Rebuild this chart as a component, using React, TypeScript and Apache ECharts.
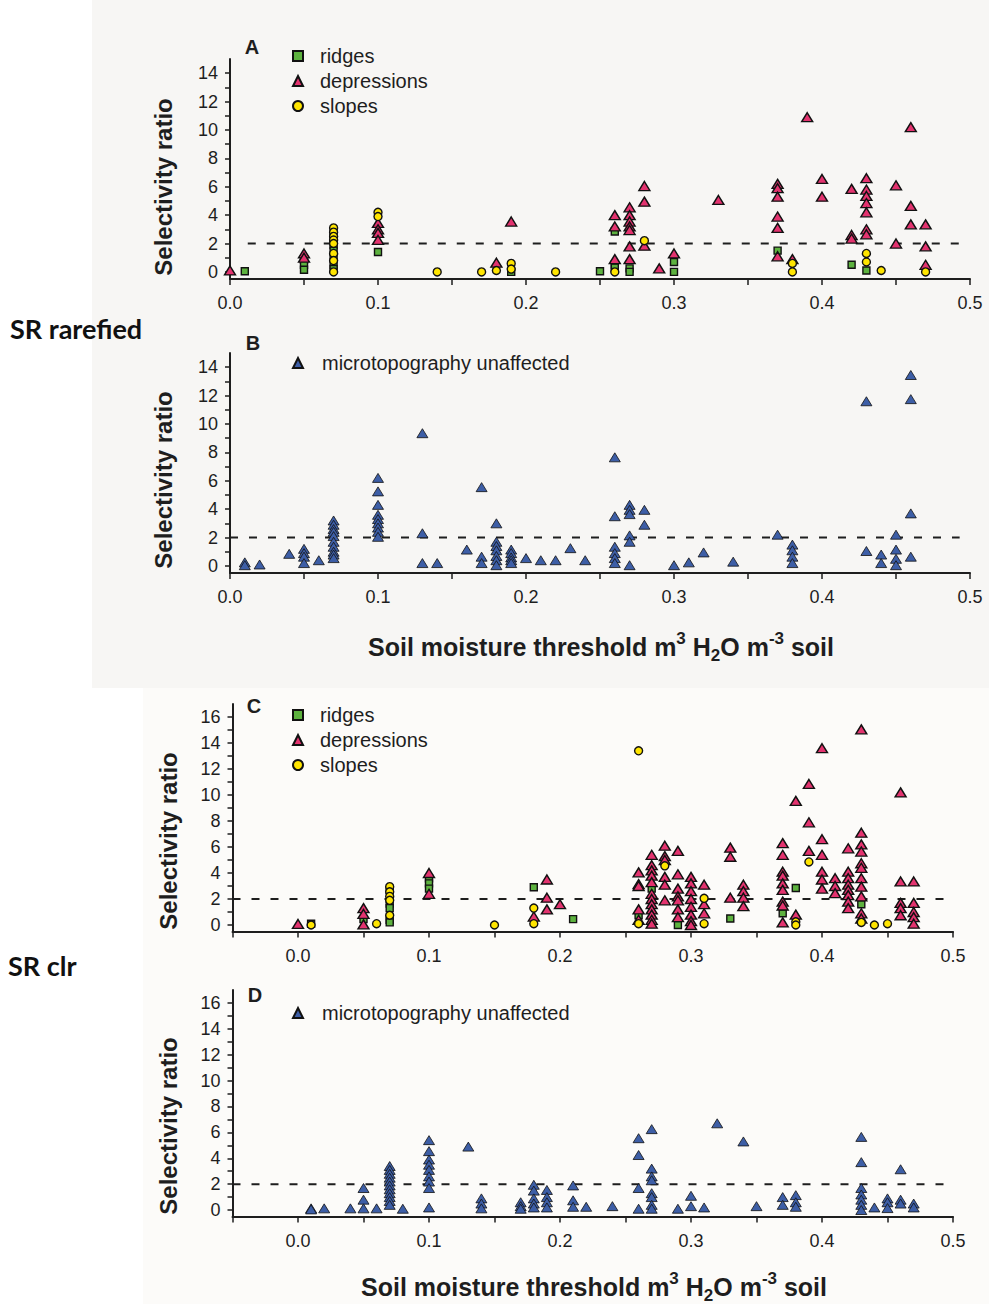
import React, { useEffect, useRef } from "react";
import * as echarts from "echarts";

// ---------- axis ticks ----------
const xLabelsAB = [0, 0.1, 0.2, 0.3, 0.4, 0.5];
const xTicksAB = [0, 0.05, 0.1, 0.15, 0.2, 0.25, 0.3, 0.35, 0.4, 0.45, 0.5];
const xLabelsCD = [0, 0.1, 0.2, 0.3, 0.4, 0.5];
const xTicksCD = [-0.05, 0, 0.05, 0.1, 0.15, 0.2, 0.25, 0.3, 0.35, 0.4, 0.45, 0.5];
const yLabelsAB = [0, 2, 4, 6, 8, 10, 12, 14];
const yTicksAB = [0, 1, 2, 3, 4, 5, 6, 7, 8, 9, 10, 11, 12, 13, 14];
const yLabelsCD = [0, 2, 4, 6, 8, 10, 12, 14, 16];
const yTicksCD = [0, 1, 2, 3, 4, 5, 6, 7, 8, 9, 10, 11, 12, 13, 14, 15, 16];
const threshold = 2;

// ---------- Panel A (SR rarefied) ----------
const ridgesA: number[][] = [
  [0.01, 0.05], [0.05, 0.85], [0.05, 0.5], [0.05, 0.15], [0.07, 2.7], [0.07, 2.3], [0.07, 1.9],
  [0.07, 1.5], [0.07, 1.0], [0.07, 0.5], [0.07, 0.2], [0.1, 1.4], [0.19, 0.0], [0.25, 0.05],
  [0.26, 2.85], [0.26, 0.5], [0.26, 0.3], [0.27, 0.25], [0.27, 0.0], [0.3, 0.7], [0.3, 0.0],
  [0.37, 1.5], [0.42, 0.5], [0.43, 0.1],
];
const depressionsA: number[][] = [
  [0.0, 0.1], [0.05, 1.3], [0.05, 1.0], [0.1, 3.45], [0.1, 3.0], [0.1, 2.75], [0.1, 2.25],
  [0.18, 0.65], [0.19, 3.55], [0.26, 4.0], [0.26, 3.2], [0.26, 0.9], [0.27, 4.55], [0.27, 4.0],
  [0.27, 3.55], [0.27, 3.2], [0.27, 2.95], [0.27, 1.8], [0.27, 0.9], [0.28, 6.05], [0.28, 4.95],
  [0.28, 1.85], [0.29, 0.25], [0.3, 1.3], [0.33, 5.07], [0.37, 6.2], [0.37, 5.9], [0.37, 5.3],
  [0.37, 3.9], [0.37, 3.1], [0.37, 1.1], [0.38, 0.9], [0.39, 10.9], [0.4, 6.55], [0.4, 5.3],
  [0.42, 5.85], [0.42, 2.6], [0.42, 2.35], [0.43, 6.6], [0.43, 5.8], [0.43, 5.35], [0.43, 4.85],
  [0.43, 4.2], [0.43, 3.0], [0.43, 2.65], [0.45, 6.1], [0.45, 2.0], [0.46, 10.2], [0.46, 4.65],
  [0.46, 3.35], [0.47, 3.35], [0.47, 1.8], [0.47, 0.5],
];
const slopesA: number[][] = [
  [0.07, 3.1], [0.07, 2.8], [0.07, 2.5], [0.07, 2.25], [0.07, 2.0], [0.07, 1.3], [0.07, 0.8],
  [0.07, 0.0], [0.1, 4.2], [0.1, 3.9], [0.14, 0.0], [0.17, 0.0], [0.18, 0.1], [0.19, 0.6],
  [0.19, 0.2], [0.22, 0.0], [0.26, 0.0], [0.28, 2.2], [0.38, 0.6], [0.38, 0.0], [0.43, 1.3],
  [0.43, 0.7], [0.44, 0.1], [0.47, 0.0],
];

// ---------- Panel B (SR rarefied, all) ----------
const unaffectedB: number[][] = [
  [0.01, 0.25], [0.01, 0.05], [0.02, 0.1], [0.04, 0.85], [0.05, 1.2], [0.05, 0.9], [0.05, 0.65],
  [0.05, 0.2], [0.06, 0.4], [0.07, 3.2], [0.07, 2.9], [0.07, 2.6], [0.07, 2.4], [0.07, 2.1],
  [0.07, 1.7], [0.07, 1.35], [0.07, 1.0], [0.07, 0.8], [0.07, 0.55], [0.1, 6.2], [0.1, 5.25],
  [0.1, 4.3], [0.1, 3.6], [0.1, 3.3], [0.1, 3.0], [0.1, 2.7], [0.1, 2.4], [0.1, 2.05],
  [0.13, 9.35], [0.13, 2.3], [0.13, 0.2], [0.14, 0.2], [0.16, 1.15], [0.17, 5.55], [0.17, 0.65],
  [0.17, 0.2], [0.18, 3.0], [0.18, 1.7], [0.18, 1.4], [0.18, 1.1], [0.18, 0.7], [0.18, 0.4],
  [0.18, 0.05], [0.19, 1.15], [0.19, 0.9], [0.19, 0.6], [0.19, 0.4], [0.19, 0.2], [0.2, 0.55],
  [0.21, 0.4], [0.22, 0.4], [0.23, 1.25], [0.24, 0.4], [0.26, 7.65], [0.26, 3.5], [0.26, 1.35],
  [0.26, 0.9], [0.26, 0.55], [0.26, 0.2], [0.27, 4.3], [0.27, 3.95], [0.27, 3.65], [0.27, 2.15],
  [0.27, 1.7], [0.27, 0.05], [0.28, 3.95], [0.28, 2.9], [0.3, 0.05], [0.31, 0.25], [0.32, 0.95],
  [0.34, 0.3], [0.37, 2.2], [0.38, 1.5], [0.38, 1.1], [0.38, 0.65], [0.38, 0.2], [0.43, 11.6],
  [0.43, 1.05], [0.44, 0.8], [0.44, 0.2], [0.45, 2.2], [0.45, 1.15], [0.45, 0.5], [0.45, 0.05],
  [0.46, 13.45], [0.46, 11.75], [0.46, 3.7], [0.46, 0.65],
];

// ---------- Panel C (SR clr) ----------
const ridgesC: number[][] = [
  [0.01, 0.1], [0.05, 0.45], [0.07, 2.7], [0.07, 1.65], [0.07, 1.3], [0.07, 0.4], [0.07, 0.2],
  [0.1, 3.6], [0.1, 3.2], [0.1, 2.8], [0.18, 2.9], [0.21, 0.45], [0.26, 0.75], [0.27, 2.8],
  [0.29, 0.0], [0.33, 0.5], [0.37, 0.9], [0.38, 2.85], [0.43, 1.6],
];
const depressionsC: number[][] = [
  [0.0, 0.08], [0.05, 1.3], [0.05, 0.85], [0.05, 0.05], [0.1, 4.0], [0.1, 2.4], [0.18, 0.65],
  [0.19, 3.5], [0.19, 2.1], [0.19, 1.2], [0.2, 1.6],
  [0.26, 4.05], [0.26, 3.15], [0.26, 3.0], [0.26, 1.2], [0.26, 0.4],
  [0.27, 5.4], [0.27, 4.6], [0.27, 4.2], [0.27, 3.8], [0.27, 3.3], [0.27, 2.4], [0.27, 2.0],
  [0.27, 1.6], [0.27, 1.2], [0.27, 0.8], [0.27, 0.4], [0.27, 0.1],
  [0.28, 6.1], [0.28, 5.3], [0.28, 5.0], [0.28, 3.7], [0.28, 3.1], [0.28, 1.9],
  [0.29, 5.7], [0.29, 3.9], [0.29, 2.8], [0.29, 2.2], [0.29, 1.9], [0.29, 1.2], [0.29, 0.6],
  [0.3, 3.7], [0.3, 3.2], [0.3, 2.6], [0.3, 2.0], [0.3, 1.4], [0.3, 0.8], [0.3, 0.3], [0.3, 0.0],
  [0.31, 3.1], [0.31, 1.6], [0.31, 0.9],
  [0.33, 5.95], [0.33, 5.25], [0.33, 2.1],
  [0.34, 3.1], [0.34, 2.6], [0.34, 2.1], [0.34, 1.45],
  [0.37, 6.3], [0.37, 5.4], [0.37, 4.1], [0.37, 3.8], [0.37, 3.2], [0.37, 2.7], [0.37, 1.8],
  [0.37, 1.5], [0.37, 0.2],
  [0.38, 9.55], [0.38, 0.8],
  [0.39, 10.85], [0.39, 7.9], [0.39, 5.7],
  [0.4, 13.6], [0.4, 6.6], [0.4, 5.4], [0.4, 4.1], [0.4, 3.5], [0.4, 2.8],
  [0.41, 3.6], [0.41, 3.0], [0.41, 2.45],
  [0.42, 5.9], [0.42, 4.1], [0.42, 3.6], [0.42, 3.1], [0.42, 2.7], [0.42, 2.3], [0.42, 1.8], [0.42, 1.3],
  [0.43, 15.05], [0.43, 7.1], [0.43, 6.2], [0.43, 5.65], [0.43, 4.75], [0.43, 4.4], [0.43, 3.6],
  [0.43, 2.95], [0.43, 2.2], [0.43, 0.9], [0.43, 0.5],
  [0.46, 10.2], [0.46, 3.35], [0.46, 1.7], [0.46, 1.3], [0.46, 0.75],
  [0.47, 3.35], [0.47, 1.7], [0.47, 1.0], [0.47, 0.6], [0.47, 0.1],
];
const slopesC: number[][] = [
  [0.01, 0.0], [0.06, 0.1], [0.07, 2.95], [0.07, 2.55], [0.07, 2.2], [0.07, 1.9], [0.07, 0.75],
  [0.15, 0.0], [0.18, 1.3], [0.18, 0.1], [0.26, 13.4], [0.26, 0.1], [0.28, 4.55], [0.31, 2.05],
  [0.31, 0.1], [0.38, 0.25], [0.38, 0.0], [0.39, 4.85], [0.43, 0.2], [0.44, 0.0], [0.45, 0.1],
];

// ---------- Panel D (SR clr, all) ----------
const unaffectedD: number[][] = [
  [0.01, 0.13], [0.01, 0.05], [0.02, 0.13], [0.04, 0.13], [0.05, 1.7], [0.05, 0.8], [0.05, 0.13],
  [0.06, 0.13], [0.07, 3.4], [0.07, 3.1], [0.07, 2.8], [0.07, 2.5], [0.07, 2.2], [0.07, 1.9],
  [0.07, 1.6], [0.07, 1.3], [0.07, 1.0], [0.07, 0.7], [0.07, 0.4], [0.08, 0.1],
  [0.1, 5.4], [0.1, 4.55], [0.1, 3.9], [0.1, 3.5], [0.1, 3.1], [0.1, 2.6], [0.1, 2.2], [0.1, 1.7],
  [0.1, 0.2], [0.13, 4.9], [0.14, 0.9], [0.14, 0.5], [0.14, 0.13], [0.17, 0.6], [0.17, 0.3],
  [0.17, 0.1], [0.18, 1.95], [0.18, 1.5], [0.18, 0.9], [0.18, 0.5], [0.18, 0.2], [0.19, 1.55],
  [0.19, 1.0], [0.19, 0.6], [0.19, 0.2], [0.21, 1.9], [0.21, 0.75], [0.21, 0.25], [0.22, 0.25],
  [0.24, 0.3], [0.26, 5.55], [0.26, 4.25], [0.26, 1.7], [0.26, 0.1], [0.27, 6.25], [0.27, 3.2],
  [0.27, 2.6], [0.27, 2.3], [0.27, 1.3], [0.27, 1.0], [0.27, 0.4], [0.27, 0.1], [0.29, 0.1],
  [0.3, 1.1], [0.3, 0.3], [0.31, 0.2], [0.32, 6.7], [0.34, 5.3], [0.35, 0.3], [0.37, 1.0],
  [0.37, 0.4], [0.38, 1.15], [0.38, 0.6], [0.38, 0.25], [0.43, 5.65], [0.43, 3.7], [0.43, 1.7],
  [0.43, 1.2], [0.43, 0.8], [0.43, 0.4], [0.43, 0.0], [0.44, 0.2], [0.45, 0.9], [0.45, 0.6],
  [0.45, 0.15], [0.46, 3.15], [0.46, 0.8], [0.46, 0.5], [0.47, 0.5], [0.47, 0.2],
];

const FONT = '"Liberation Sans", Arial, sans-serif';
const INK = "#1e1e1e";
const GREEN = "#5db23f";
const PINK = "#e3336f";
const YELLOW = "#ffe500";
const BLUE = "#3d5ea6";

function xAxis(gridIndex: number, min: number, max: number, labels: number[], ticks: number[]) {
  return {
    type: "value", gridIndex, min, max, position: "bottom",
    axisLine: { show: true, onZero: false, lineStyle: { color: INK, width: 2 } },
    axisTick: { show: true, inside: false, length: 6, customValues: ticks, lineStyle: { color: INK, width: 1.5 } },
    axisLabel: {
      show: true, customValues: labels, formatter: (v: number) => v.toFixed(1),
      margin: 15, fontSize: 18, fontFamily: FONT, color: INK,
    },
    splitLine: { show: false },
  };
}
function yAxis(gridIndex: number, min: number, max: number, labels: number[], ticks: number[]) {
  return {
    type: "value", gridIndex, min, max, position: "left",
    axisLine: { show: true, onZero: false, lineStyle: { color: INK, width: 2 } },
    axisTick: { show: true, inside: false, length: 5, customValues: ticks, lineStyle: { color: INK, width: 1.5 } },
    axisLabel: {
      show: true, customValues: labels, formatter: (v: number) => String(v),
      margin: 12, fontSize: 18, fontFamily: FONT, color: INK,
    },
    splitLine: { show: false },
  };
}
function pts(name: string, data: number[][], idx: number, symbol: string, size: any, color: string, bw = 1.4) {
  return {
    type: "scatter", name, data, xAxisIndex: idx, yAxisIndex: idx, symbol, symbolSize: size,
    itemStyle: { color, borderColor: "#111", borderWidth: bw, opacity: 1 }, z: 3,
  };
}
function dashed(idx: number, x0: number, x1: number) {
  return {
    type: "line", data: [[x0, threshold], [x1, threshold]], xAxisIndex: idx, yAxisIndex: idx,
    symbol: "none", silent: true, z: 1,
    lineStyle: { color: INK, width: 2, type: [8, 11] },
  };
}
function legend(top: number, textPad: number, names: string[]) {
  return {
    orient: "vertical", left: 287, top, itemWidth: 10, itemHeight: 10, itemGap: 5, selectedMode: false,
    data: names, textStyle: { fontSize: 20, fontFamily: FONT, color: INK, padding: [0, 0, 0, textPad] },
  };
}
function txt(x: number, y: number, text: string, font: string, extra: any = {}) {
  return {
    type: "text", x, y, z: 10, ...extra,
    style: { text, font, fill: INK, textAlign: "center", textVerticalAlign: "middle", ...(extra.style || {}) },
  };
}
const xTitleRich = {
  sup: { fontSize: 17, fontWeight: "bold", fontFamily: FONT, lineHeight: 17, verticalAlign: "top", fill: INK },
  sub: { fontSize: 17, fontWeight: "bold", fontFamily: FONT, lineHeight: 22, verticalAlign: "bottom", fill: INK },
};
const xTitleText = "Soil moisture threshold m{sup|3} H{sub|2}O m{sup|-3} soil";

export default function App() {
  const ref = useRef<HTMLDivElement>(null);
  useEffect(() => {
    if (!ref.current) return;
    const chart = echarts.init(ref.current, undefined, { renderer: "svg" });
    const option: any = {
      animation: false,
      backgroundColor: "#ffffff",
      grid: [
        { left: 230, top: 59, width: 740, height: 220 },
        { left: 230, top: 353, width: 740, height: 220 },
        { left: 232.5, top: 704, width: 720.5, height: 227.5 },
        { left: 232.5, top: 990, width: 720.5, height: 226.5 },
      ],
      xAxis: [
        xAxis(0, 0, 0.5, xLabelsAB, xTicksAB),
        xAxis(1, 0, 0.5, xLabelsAB, xTicksAB),
        xAxis(2, -0.05, 0.5, xLabelsCD, xTicksCD),
        xAxis(3, -0.05, 0.5, xLabelsCD, xTicksCD),
      ],
      yAxis: [
        yAxis(0, -0.5, 15, yLabelsAB, yTicksAB),
        yAxis(1, -0.5, 15, yLabelsAB, yTicksAB),
        yAxis(2, -0.5, 17, yLabelsCD, yTicksCD),
        yAxis(3, -0.5, 17, yLabelsCD, yTicksCD),
      ],
      legend: [
        legend(41, 12, ["ridges", "depressions", "slopes"]),
        legend(348, 14, ["microtopography unaffected"]),
        legend(700, 12, ["ridges", "depressions", "slopes"]),
        legend(998, 14, ["microtopography unaffected"]),
      ],
      series: [
        dashed(0, 0.012, 0.493),
        pts("ridges", ridgesA, 0, "rect", 7, GREEN),
        pts("depressions", depressionsA, 0, "triangle", [11, 9], PINK),
        pts("slopes", slopesA, 0, "circle", 8, YELLOW),
        dashed(1, 0, 0.493),
        pts("microtopography unaffected", unaffectedB, 1, "triangle", [11, 9], BLUE, 0.8),
        dashed(2, -0.05, 0.493),
        pts("ridges", ridgesC, 2, "rect", 7, GREEN),
        pts("depressions", depressionsC, 2, "triangle", [11, 9], PINK),
        pts("slopes", slopesC, 2, "circle", 8, YELLOW),
        dashed(3, -0.05, 0.493),
        pts("microtopography unaffected", unaffectedD, 3, "triangle", [11, 9], BLUE, 0.8),
      ],
      graphic: [
        { type: "rect", z: -10, shape: { x: 92, y: 0, width: 897, height: 688 }, style: { fill: "#f7f6f4" } },
        { type: "rect", z: -10, shape: { x: 143, y: 688, width: 846, height: 616 }, style: { fill: "#fcfbf9" } },
        txt(252, 47, "A", 'bold 20px "Liberation Sans"'),
        txt(253, 343, "B", 'bold 20px "Liberation Sans"'),
        txt(254, 706, "C", 'bold 20px "Liberation Sans"'),
        txt(255, 995, "D", 'bold 20px "Liberation Sans"'),
        txt(163, 187, "Selectivity ratio", 'bold 24px "Liberation Sans"', { rotation: Math.PI / 2 }),
        txt(163, 480, "Selectivity ratio", 'bold 24px "Liberation Sans"', { rotation: Math.PI / 2 }),
        txt(168, 841, "Selectivity ratio", 'bold 24px "Liberation Sans"', { rotation: Math.PI / 2 }),
        txt(168, 1126, "Selectivity ratio", 'bold 24px "Liberation Sans"', { rotation: Math.PI / 2 }),
        txt(601, 647, xTitleText, 'bold 25px "Liberation Sans"', { style: { rich: xTitleRich, lineHeight: 34 } }),
        txt(594, 1287, xTitleText, 'bold 25px "Liberation Sans"', { style: { rich: xTitleRich, lineHeight: 34 } }),
        { type: "text", x: 10, y: 328, z: 10, style: { text: "SR rarefied", font: 'bold 27px Lato', fill: "#111", textAlign: "left", textVerticalAlign: "middle" } },
        { type: "text", x: 8, y: 965, z: 10, style: { text: "SR clr", font: 'bold 27px Lato', fill: "#111", textAlign: "left", textVerticalAlign: "middle" } },
      ],
    };
    chart.setOption(option);
    return () => chart.dispose();
  }, []);
  return <div ref={ref} style={{ position: "absolute", left: 0, top: 0, width: 989, height: 1304 }} />;
}
